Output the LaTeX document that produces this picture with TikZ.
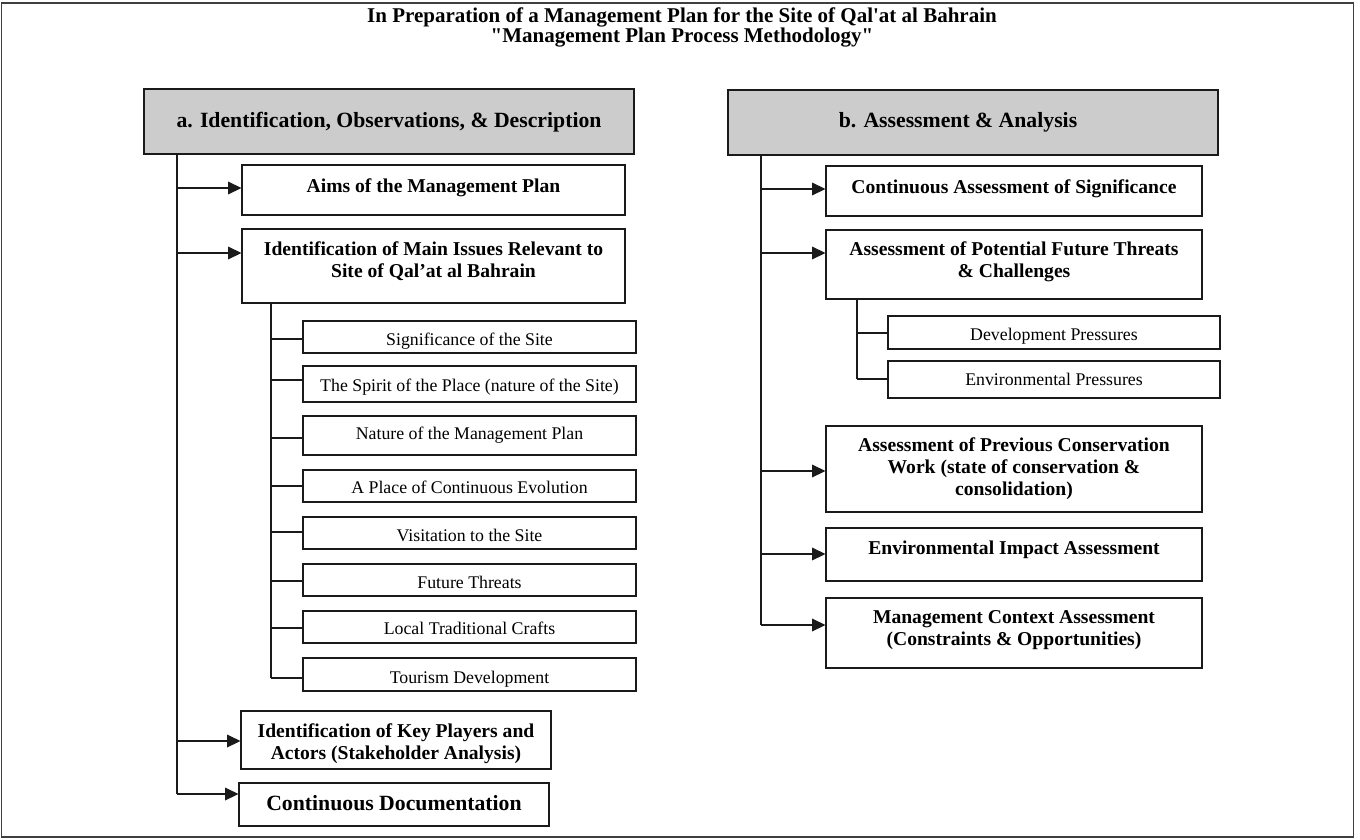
\documentclass[tikz,border=0pt]{standalone}
\usepackage{fontspec}
\setmainfont{Liberation Serif}
\usetikzlibrary{arrows.meta,fit}
\definecolor{hdrgray}{HTML}{CCCCCC}
\definecolor{linecol}{HTML}{1A1A1A}
\newcommand\tl[1]{\begin{tabular}[t]{@{}c@{}}#1\end{tabular}}
\begin{document}
\begin{tikzpicture}[x=0.75pt,y=-0.75pt,
  box/.style={draw=linecol, line width=0.85pt, inner sep=0pt},
  hdr/.style={box, fill=hdrgray},
  ln/.style={draw=linecol, line width=0.9pt},
  arr/.style={ln, -{Triangle[length=10pt,width=9.5pt]}},
  ttl/.style={font=\fontsize{15.75}{17}\selectfont\bfseries, inner sep=0pt, anchor=base},
  th/.style={font=\fontsize{16.3}{18}\selectfont\bfseries, inner sep=0pt, anchor=base},
  tb/.style={font=\fontsize{14.7}{16.5}\selectfont\bfseries, inner sep=0pt, anchor=base},
  ts/.style={font=\fontsize{13.35}{16}\selectfont, inner sep=0pt, anchor=base}]
\useasboundingbox (0,0) rectangle (1360,839);
\node[draw=black!75, line width=1.3pt, inner sep=0pt, fit={(1.5,3) (1353.5,837)}] (frame) {};
% title
\node[ttl] (t1) at (682,22) {In Preparation of a Management Plan for the Site of Qal\textquotesingle at al Bahrain};
\node[ttl] (t2) at (682,42) {\textquotedbl Management Plan Process Methodology\textquotedbl};
% ---------------- left column
\node[hdr, fit={(144,89) (634,154)}] (hA) {};
\node[th] (hAt) at (389,127) {a. Identification, Observations, \& Description};
\node[box, fit={(242,165) (625,215)}] (aims) {};
\node[tb] (aimst) at (433.5,192) {Aims of the Management Plan};
\node[box, fit={(242,229) (625,303)}] (ident) {};
\node[tb] (identt) at (433.5,255) {\tl{Identification of Main Issues Relevant to\\Site of Qal’at al Bahrain}};
\foreach \n/\a/\b/\base/\t in {
  sig/321/353/345/{Significance of the Site},
  spi/366/402/391/{The Spirit of the Place (nature of the Site)},
  nat/416/455/439/{Nature of the Management Plan},
  pla/470/502/493/{A Place of Continuous Evolution},
  vis/517/549/541/{Visitation to the Site},
  fut/564/596/588/{Future Threats},
  loc/611/643/634/{Local Traditional Crafts},
  tou/658/691/683/{Tourism Development}}{
  \node[box, fit={(303,\a) (636,\b)}] (\n) {};
  \node[ts] (\n t) at (469.5,\base) {\t};
}
\node[box, fit={(241,711) (551,769)}] (key) {};
\node[tb] (keyt) at (396,737) {\tl{Identification of Key Players and\\Actors (Stakeholder Analysis)}};
\node[box, fit={(239,783) (549,826)}] (doc) {};
\node[th] (doct) at (394,810.7) {Continuous Documentation};
% left connectors
\coordinate (ta0) at (177,154);
\coordinate (ta1) at (177,794);
\draw[ln] (ta0) -- (ta1);
\foreach \y/\n in {188/aims,253/ident,741/key,794/doc}{
  \coordinate (ca\n) at (177,\y);
  \draw[arr] (ca\n) -- (ca\n -| \n.west);
}
\coordinate (sa0) at (271,303);
\coordinate (sa1) at (271,678);
\draw[ln] (sa0) -- (sa1);
\foreach \y/\n in {339/sig,380/spi,438/nat,486/pla,532/vis,581/fut,628/loc,678/tou}{
  \coordinate (cs\n) at (271,\y);
  \draw[ln] (cs\n) -- (cs\n -| \n.west);
}
% ---------------- right column
\node[hdr, fit={(728,90) (1218,155)}] (hB) {};
\node[th] (hBt) at (958,127) {b. Assessment \& Analysis};
\node[box, fit={(826,166) (1202,216)}] (cas) {};
\node[tb] (cast) at (1014,193) {Continuous Assessment of Significance};
\node[box, fit={(826,230) (1202,299)}] (apt) {};
\node[tb] (aptt) at (1014,255) {\tl{Assessment of Potential Future Threats\\\& Challenges}};
\node[box, fit={(888,316) (1220,349)}] (dev) {};
\node[ts] (devt) at (1054,340) {Development Pressures};
\node[box, fit={(888,361) (1220,398)}] (env) {};
\node[ts] (envt) at (1054,385) {Environmental Pressures};
\node[box, fit={(826,426) (1202,512)}] (pcw) {};
\node[tb] (pcwt) at (1014,451) {\tl{Assessment of Previous Conservation\\Work (state of conservation \&\\consolidation)}};
\node[box, fit={(826,528) (1202,581)}] (eia) {};
\node[tb] (eiat) at (1014,554) {Environmental Impact Assessment};
\node[box, fit={(826,598) (1202,668)}] (mca) {};
\node[tb] (mcat) at (1014,623) {\tl{Management Context Assessment\\(Constraints \& Opportunities)}};
% right connectors
\coordinate (tb0) at (761,155);
\coordinate (tb1) at (761,625);
\draw[ln] (tb0) -- (tb1);
\foreach \y/\n in {189/cas,253/apt,471/pcw,554/eia,625/mca}{
  \coordinate (cb\n) at (761,\y);
  \draw[arr] (cb\n) -- (cb\n -| \n.west);
}
\coordinate (sb0) at (857,299);
\coordinate (sb1) at (857,379);
\draw[ln] (sb0) -- (sb1);
\foreach \y/\n in {333/dev,379/env}{
  \coordinate (cs\n) at (857,\y);
  \draw[ln] (cs\n) -- (cs\n -| \n.west);
}
\end{tikzpicture}
\end{document}
